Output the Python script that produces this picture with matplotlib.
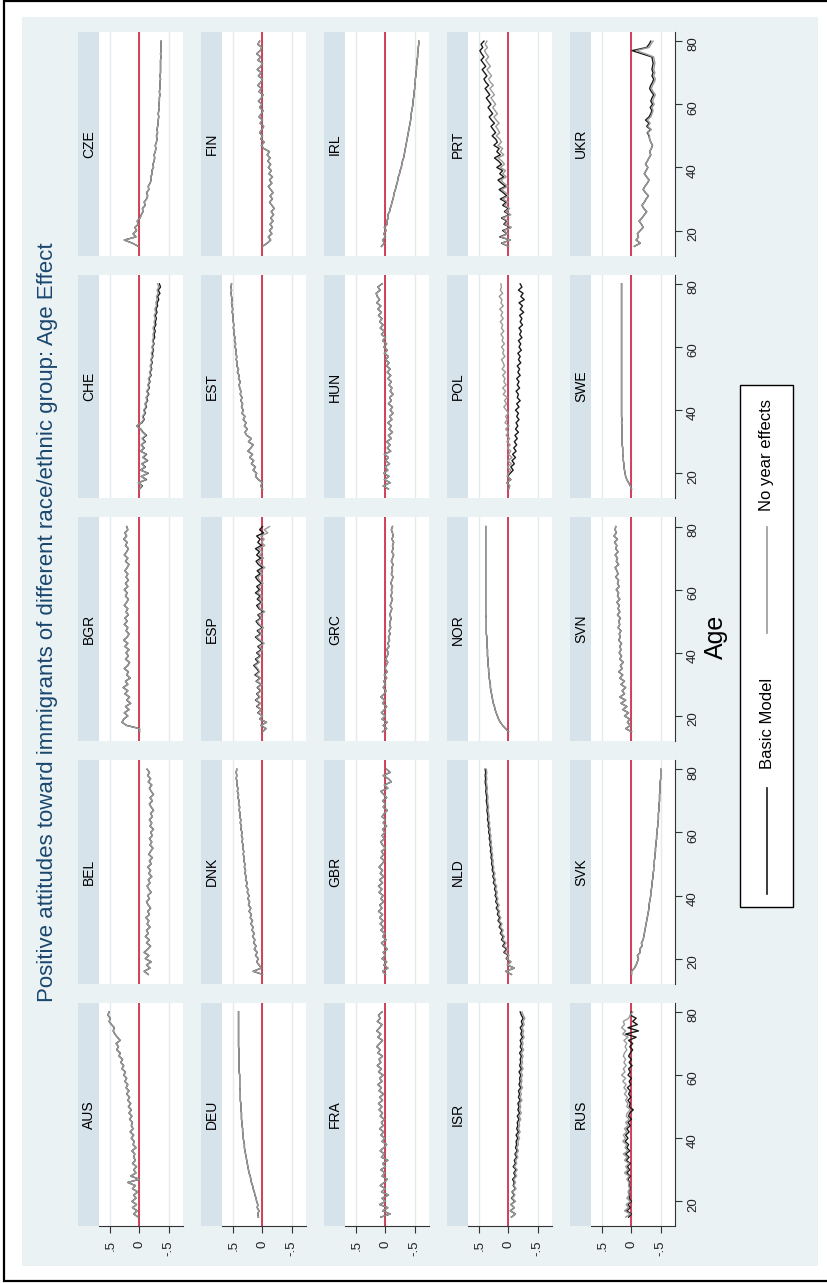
import matplotlib.pyplot as plt
from matplotlib.patches import Rectangle
from matplotlib.lines import Line2D

plt.rcParams['font.family'] = ['Liberation Sans', 'DejaVu Sans']

W, H = 827, 1283
ages = list(range(15, 81))

# age profiles, ages 15..80 (basic model; "no year effects" where it differs)
cze = [0.02, 0.12, 0.26, 0.06, 0.11,
       0.05, 0.08, 0.02, 0.04, -0.01, -0.03, -0.06, -0.05, -0.10, -0.08,
       -0.12, -0.14, -0.12, -0.16, -0.15, -0.18, -0.20, -0.19, -0.22, -0.21,
       -0.24, -0.23, -0.25, -0.26, -0.25, -0.27, -0.28, -0.27, -0.29, -0.30,
       -0.29, -0.31, -0.30, -0.31, -0.32, -0.32, -0.33, -0.32, -0.33, -0.34,
       -0.33, -0.34, -0.34, -0.35, -0.34, -0.35, -0.35, -0.35, -0.36, -0.35,
       -0.36, -0.36, -0.36, -0.36, -0.36, -0.37, -0.36, -0.37, -0.37, -0.37,
       -0.37]
che = [0.00, -0.05, 0.02, -0.12, -0.03,
       -0.15, -0.02, -0.10, -0.04, -0.14, -0.06, -0.12, -0.02, -0.08, -0.03,
       -0.10, -0.05, -0.12, -0.06, -0.02, 0.05, -0.04, -0.08, -0.06, -0.10,
       -0.08, -0.12, -0.10, -0.14, -0.12, -0.16, -0.13, -0.17, -0.15, -0.18,
       -0.16, -0.20, -0.18, -0.21, -0.19, -0.22, -0.20, -0.23, -0.22, -0.24,
       -0.22, -0.25, -0.23, -0.26, -0.25, -0.27, -0.25, -0.28, -0.27, -0.29,
       -0.27, -0.30, -0.28, -0.31, -0.30, -0.33, -0.31, -0.35, -0.32, -0.36,
       -0.34]
che_ny = [0.00, -0.04, 0.02, -0.11, -0.03,
          -0.14, -0.02, -0.09, -0.04, -0.13, -0.05, -0.11, -0.02, -0.07, -0.03,
          -0.09, -0.04, -0.11, -0.05, -0.02, 0.05, -0.03, -0.07, -0.05, -0.09,
          -0.07, -0.11, -0.09, -0.13, -0.11, -0.15, -0.12, -0.16, -0.14, -0.17,
          -0.15, -0.19, -0.17, -0.20, -0.18, -0.21, -0.19, -0.22, -0.20, -0.23,
          -0.21, -0.24, -0.22, -0.24, -0.23, -0.25, -0.23, -0.26, -0.25, -0.27,
          -0.25, -0.28, -0.26, -0.29, -0.28, -0.30, -0.29, -0.32, -0.30, -0.33,
          -0.31]
bgr = [0.00, 0.00, 0.22, 0.30, 0.27,
       0.20, 0.26, 0.18, 0.24, 0.15, 0.22, 0.17, 0.25, 0.20, 0.28,
       0.20, 0.24, 0.16, 0.22, 0.19, 0.26, 0.20, 0.17, 0.24, 0.19,
       0.23, 0.18, 0.25, 0.20, 0.27, 0.21, 0.18, 0.23, 0.20, 0.26,
       0.21, 0.25, 0.19, 0.23, 0.20, 0.26, 0.22, 0.19, 0.24, 0.21,
       0.26, 0.20, 0.24, 0.19, 0.23, 0.20, 0.25, 0.21, 0.18, 0.24,
       0.20, 0.26, 0.22, 0.19, 0.24, 0.21, 0.27, 0.22, 0.25, 0.20,
       0.22]
bel = [-0.15, -0.08, -0.18, -0.12, -0.20,
       -0.10, -0.16, -0.08, -0.14, -0.19, -0.12, -0.17, -0.10, -0.15, -0.12,
       -0.18, -0.13, -0.16, -0.11, -0.17, -0.14, -0.19, -0.15, -0.12, -0.17,
       -0.14, -0.20, -0.16, -0.13, -0.18, -0.15, -0.21, -0.16, -0.19, -0.14,
       -0.20, -0.17, -0.22, -0.16, -0.19, -0.23, -0.18, -0.21, -0.17, -0.22,
       -0.19, -0.24, -0.18, -0.21, -0.17, -0.22, -0.19, -0.24, -0.20, -0.17,
       -0.22, -0.18, -0.24, -0.20, -0.17, -0.21, -0.15, -0.19, -0.14, -0.17,
       -0.13]
aus = [0.02, 0.10, 0.04, 0.12, 0.05,
       0.13, 0.06, 0.10, 0.03, 0.12, 0.07, 0.20, 0.00, 0.15, 0.06,
       0.10, 0.05, 0.12, 0.07, 0.10, 0.08, 0.13, 0.06, 0.11, 0.09,
       0.14, 0.10, 0.16, 0.11, 0.14, 0.12, 0.17, 0.13, 0.18, 0.14,
       0.19, 0.15, 0.20, 0.17, 0.22, 0.18, 0.23, 0.20, 0.25, 0.22,
       0.27, 0.24, 0.30, 0.27, 0.32, 0.29, 0.35, 0.33, 0.39, 0.36,
       0.40, 0.33, 0.38, 0.42, 0.45, 0.43, 0.48, 0.52, 0.50, 0.54,
       0.52]
fin = [0.00, -0.08, -0.14, -0.10, -0.16,
       -0.12, -0.17, -0.13, -0.18, -0.14, -0.19, -0.15, -0.20, -0.16, -0.12,
       -0.17, -0.13, -0.18, -0.14, -0.10, -0.16, -0.12, -0.17, -0.11, -0.15,
       -0.10, -0.14, -0.09, -0.13, -0.08, -0.12, -0.02, 0.02, -0.03, 0.03,
       0.00, 0.05, 0.01, -0.02, 0.04, 0.00, 0.06, 0.02, -0.01, 0.05,
       0.01, 0.07, 0.02, -0.01, 0.06, 0.02, 0.08, 0.03, 0.00, 0.07,
       0.02, 0.09, 0.03, 0.00, 0.08, 0.03, 0.10, 0.04, 0.01, 0.08,
       0.05]
est = [0.00, 0.03, 0.00, 0.07, 0.12,
       0.10, 0.16, 0.12, 0.19, 0.15, 0.22, 0.17, 0.25, 0.20, 0.16,
       0.24, 0.19, 0.27, 0.30, 0.26, 0.31, 0.28, 0.33, 0.30, 0.35,
       0.33, 0.36, 0.34, 0.37, 0.35, 0.38, 0.37, 0.39, 0.40, 0.38,
       0.41, 0.40, 0.43, 0.41, 0.44, 0.43, 0.45, 0.44, 0.46, 0.45,
       0.47, 0.46, 0.48, 0.47, 0.49, 0.48, 0.50, 0.49, 0.50, 0.51,
       0.50, 0.52, 0.51, 0.52, 0.53, 0.52, 0.53, 0.54, 0.53, 0.54,
       0.53]
esp = [0.00, -0.06, 0.03, -0.07, 0.05,
       0.00, 0.08, 0.02, 0.10, 0.04, 0.12, 0.05, 0.10, 0.03, 0.09,
       0.02, 0.11, 0.04, 0.13, 0.06, 0.10, 0.15, 0.07, 0.12, 0.04,
       0.10, 0.02, 0.08, -0.01, 0.06, 0.12, 0.03, 0.09, 0.00, 0.07,
       0.11, 0.03, 0.08, -0.02, 0.06, 0.10, 0.02, 0.09, 0.04, 0.12,
       0.05, 0.10, 0.02, 0.08, 0.12, 0.04, 0.09, 0.00, 0.07, 0.11,
       0.03, 0.10, 0.05, 0.12, 0.02, 0.08, 0.04, 0.10, -0.02, 0.05,
       0.00]
esp_ny = [0.00, -0.06, 0.03, -0.07, 0.05,
          0.00, 0.07, 0.02, 0.09, 0.03, 0.11, 0.04, 0.09, 0.02, 0.08,
          0.01, 0.10, 0.03, 0.11, 0.05, 0.08, 0.13, 0.05, 0.10, 0.02,
          0.08, 0.00, 0.06, -0.03, 0.04, 0.10, 0.01, 0.07, -0.02, 0.05,
          0.09, 0.01, 0.06, -0.04, 0.04, 0.07, 0.00, 0.06, 0.01, 0.09,
          0.02, 0.07, -0.01, 0.05, 0.08, 0.00, 0.05, -0.04, 0.03, 0.07,
          -0.02, 0.05, 0.00, 0.07, -0.04, 0.02, -0.03, 0.03, -0.09, -0.03,
          -0.12]
dnk = [0.00, 0.16, 0.02, 0.06, 0.10,
       0.07, 0.12, 0.09, 0.14, 0.11, 0.15, 0.13, 0.17, 0.14, 0.18,
       0.16, 0.20, 0.17, 0.21, 0.19, 0.23, 0.20, 0.24, 0.22, 0.25,
       0.23, 0.26, 0.25, 0.28, 0.26, 0.29, 0.28, 0.30, 0.29, 0.31,
       0.30, 0.32, 0.31, 0.33, 0.32, 0.34, 0.33, 0.35, 0.34, 0.36,
       0.35, 0.37, 0.36, 0.38, 0.37, 0.39, 0.38, 0.40, 0.39, 0.41,
       0.40, 0.42, 0.41, 0.43, 0.42, 0.44, 0.43, 0.45, 0.44, 0.45,
       0.44]
deu = [0.07, 0.08, 0.06, 0.09, 0.08,
       0.10, 0.11, 0.13, 0.14, 0.16, 0.17, 0.19, 0.20, 0.21, 0.23,
       0.24, 0.25, 0.26, 0.27, 0.28, 0.29, 0.30, 0.31, 0.31, 0.32,
       0.33, 0.33, 0.34, 0.34, 0.35, 0.35, 0.36, 0.36, 0.36, 0.37,
       0.37, 0.37, 0.38, 0.38, 0.38, 0.38, 0.39, 0.39, 0.39, 0.39,
       0.39, 0.40, 0.40, 0.40, 0.40, 0.40, 0.40, 0.40, 0.40, 0.41,
       0.41, 0.41, 0.41, 0.41, 0.41, 0.41, 0.41, 0.41, 0.41, 0.41,
       0.41]
irl = [0.07, 0.02, 0.05, 0.00, 0.03,
       -0.01, 0.02, -0.03, -0.02, -0.05, -0.04, -0.07, -0.08, -0.10, -0.11,
       -0.13, -0.14, -0.15, -0.17, -0.18, -0.20, -0.21, -0.22, -0.24, -0.25,
       -0.27, -0.28, -0.29, -0.31, -0.32, -0.33, -0.34, -0.35, -0.36, -0.37,
       -0.38, -0.39, -0.40, -0.41, -0.42, -0.43, -0.44, -0.44, -0.45, -0.46,
       -0.47, -0.47, -0.48, -0.49, -0.49, -0.50, -0.50, -0.51, -0.51, -0.52,
       -0.52, -0.53, -0.53, -0.54, -0.54, -0.55, -0.55, -0.56, -0.56, -0.57,
       -0.57]
hun = [-0.05, 0.04, -0.08, 0.02, -0.06,
       0.03, -0.04, 0.01, -0.07, 0.00, -0.05, 0.02, -0.09, -0.03, -0.08,
       -0.02, -0.10, -0.05, -0.12, -0.06, -0.10, -0.04, -0.11, -0.07, -0.13,
       -0.08, -0.12, -0.05, -0.10, -0.07, -0.13, -0.08, -0.11, -0.06, -0.10,
       -0.04, -0.09, -0.03, -0.08, -0.02, -0.06, 0.00, -0.05, 0.02, -0.03,
       0.03, -0.02, 0.05, 0.00, 0.07, 0.02, 0.09, 0.04, 0.10, 0.06,
       0.12, 0.07, 0.13, 0.08, 0.15, 0.10, 0.14, 0.16, 0.09, 0.13,
       0.06]
grc = [0.05, -0.02, 0.04, -0.03, 0.06,
       0.00, 0.07, 0.02, -0.02, 0.05, 0.01, 0.08, 0.02, -0.01, 0.04,
       0.00, 0.03, -0.02, 0.02, -0.03, 0.01, -0.01, -0.04, 0.00, -0.03,
       -0.05, -0.02, -0.06, -0.04, -0.07, -0.05, -0.08, -0.06, -0.09, -0.07,
       -0.08, -0.10, -0.07, -0.09, -0.11, -0.08, -0.10, -0.12, -0.09, -0.11,
       -0.10, -0.12, -0.09, -0.11, -0.13, -0.10, -0.12, -0.11, -0.13, -0.10,
       -0.12, -0.14, -0.11, -0.13, -0.12, -0.14, -0.11, -0.13, -0.12, -0.10,
       -0.12]
gbr = [0.00, 0.05, -0.04, 0.03, -0.02,
       0.06, 0.00, 0.04, -0.03, 0.02, 0.07, -0.01, 0.05, 0.01, 0.08,
       0.03, 0.09, 0.04, 0.10, 0.05, 0.12, 0.06, 0.10, 0.03, 0.08,
       0.04, 0.11, 0.06, 0.12, 0.05, 0.10, 0.03, 0.09, 0.05, 0.11,
       0.06, 0.02, 0.08, 0.03, 0.07, 0.00, 0.05, 0.08, 0.02, 0.06,
       0.01, 0.05, -0.02, 0.04, 0.00, 0.06, 0.02, -0.03, 0.04, 0.00,
       0.05, -0.02, 0.03, 0.08, -0.04, 0.02, -0.10, -0.05, 0.04, -0.08,
       -0.02]
fra = [0.08, -0.08, 0.05, -0.04, 0.10,
       0.00, 0.06, -0.05, 0.07, 0.00, 0.09, 0.02, -0.03, 0.06, 0.01,
       0.08, 0.00, 0.05, -0.04, 0.07, 0.02, 0.09, 0.03, -0.02, 0.06,
       0.01, 0.08, 0.03, 0.10, 0.04, 0.07, 0.02, 0.09, 0.05, 0.11,
       0.06, 0.12, 0.05, 0.10, 0.03, 0.11, 0.07, 0.13, 0.06, 0.10,
       0.04, 0.12, 0.07, 0.14, 0.08, 0.11, 0.05, 0.13, 0.09, 0.15,
       0.10, 0.05, 0.13, 0.08, 0.15, 0.10, 0.06, 0.14, 0.09, 0.12,
       0.06]
prt = [0.00, 0.12, -0.03, 0.15, 0.02,
       0.10, -0.04, 0.08, 0.03, 0.12, -0.02, 0.07, 0.00, 0.10, 0.04,
       0.14, 0.03, 0.09, 0.16, 0.05, 0.12, 0.18, 0.08, 0.15, 0.10,
       0.20, 0.12, 0.17, 0.24, 0.14, 0.20, 0.16, 0.25, 0.19, 0.22,
       0.28, 0.22, 0.26, 0.30, 0.24, 0.29, 0.33, 0.27, 0.31, 0.35,
       0.30, 0.34, 0.38, 0.32, 0.36, 0.40, 0.34, 0.39, 0.42, 0.37,
       0.41, 0.45, 0.39, 0.43, 0.47, 0.42, 0.46, 0.49, 0.44, 0.47,
       0.42]
prt_ny = [0.00, 0.11, -0.03, 0.13, 0.01,
          0.08, -0.05, 0.06, 0.01, 0.10, -0.04, 0.05, -0.02, 0.07, 0.01,
          0.10, 0.00, 0.05, 0.12, 0.01, 0.08, 0.13, 0.04, 0.10, 0.05,
          0.14, 0.07, 0.11, 0.18, 0.08, 0.14, 0.10, 0.18, 0.12, 0.15,
          0.21, 0.15, 0.18, 0.22, 0.16, 0.21, 0.25, 0.19, 0.23, 0.27,
          0.22, 0.26, 0.30, 0.24, 0.28, 0.32, 0.26, 0.31, 0.34, 0.29,
          0.33, 0.37, 0.31, 0.35, 0.39, 0.34, 0.38, 0.41, 0.36, 0.40,
          0.37]
pol = [0.00, -0.02, 0.03, -0.04, 0.02,
       -0.03, -0.08, -0.04, -0.10, -0.06, -0.12, -0.07, -0.13, -0.09, -0.14,
       -0.10, -0.15, -0.11, -0.17, -0.12, -0.16, -0.13, -0.18, -0.14, -0.17,
       -0.12, -0.18, -0.14, -0.20, -0.15, -0.17, -0.13, -0.19, -0.15, -0.18,
       -0.14, -0.20, -0.16, -0.19, -0.15, -0.21, -0.17, -0.20, -0.16, -0.22,
       -0.18, -0.21, -0.17, -0.23, -0.19, -0.22, -0.18, -0.24, -0.20, -0.23,
       -0.19, -0.26, -0.20, -0.24, -0.18, -0.27, -0.21, -0.25, -0.17, -0.23,
       -0.20]
pol_ny = [0.00, -0.02, 0.03, -0.04, 0.02,
          0.00, -0.04, 0.02, -0.05, 0.01, -0.06, 0.00, -0.04, 0.02, -0.03,
          0.03, -0.02, 0.04, 0.00, 0.05, -0.01, 0.06, 0.02, 0.05, 0.00,
          0.04, 0.08, 0.03, 0.07, 0.02, 0.09, 0.05, 0.10, 0.04, 0.08,
          0.06, 0.10, 0.05, 0.11, 0.07, 0.09, 0.12, 0.06, 0.10, 0.08,
          0.12, 0.07, 0.11, 0.09, 0.13, 0.08, 0.12, 0.10, 0.14, 0.09,
          0.13, 0.10, 0.15, 0.09, 0.13, 0.11, 0.16, 0.10, 0.14, 0.12,
          0.13]
nor = [0.00, 0.05, 0.10, 0.14, 0.17,
       0.19, 0.21, 0.23, 0.24, 0.26, 0.27, 0.28, 0.29, 0.30, 0.31,
       0.31, 0.32, 0.33, 0.33, 0.34, 0.34, 0.35, 0.35, 0.35, 0.36,
       0.36, 0.36, 0.37, 0.37, 0.37, 0.37, 0.38, 0.38, 0.38, 0.38,
       0.38, 0.38, 0.39, 0.39, 0.39, 0.39, 0.39, 0.39, 0.39, 0.39,
       0.39, 0.39, 0.39, 0.39, 0.39, 0.39, 0.39, 0.39, 0.39, 0.39,
       0.39, 0.39, 0.39, 0.39, 0.39, 0.39, 0.39, 0.39, 0.39, 0.39,
       0.39]
nld = [-0.05, 0.05, -0.10, 0.02, -0.04,
       0.04, 0.00, 0.08, 0.03, 0.10, 0.06, 0.12, 0.09, 0.14, 0.11,
       0.16, 0.13, 0.18, 0.15, 0.19, 0.17, 0.21, 0.18, 0.22, 0.20,
       0.23, 0.21, 0.24, 0.22, 0.26, 0.24, 0.27, 0.25, 0.28, 0.27,
       0.29, 0.28, 0.30, 0.29, 0.31, 0.30, 0.32, 0.31, 0.33, 0.32,
       0.34, 0.33, 0.35, 0.34, 0.36, 0.35, 0.36, 0.37, 0.36, 0.37,
       0.38, 0.37, 0.38, 0.39, 0.38, 0.39, 0.40, 0.39, 0.40, 0.39,
       0.40]
nld_ny = [-0.05, 0.05, -0.10, 0.02, -0.04,
          0.03, -0.01, 0.06, 0.01, 0.08, 0.04, 0.10, 0.07, 0.12, 0.09,
          0.14, 0.11, 0.16, 0.13, 0.17, 0.15, 0.19, 0.16, 0.20, 0.18,
          0.21, 0.19, 0.22, 0.20, 0.24, 0.22, 0.25, 0.23, 0.26, 0.25,
          0.27, 0.26, 0.28, 0.27, 0.29, 0.28, 0.30, 0.29, 0.31, 0.30,
          0.32, 0.31, 0.33, 0.32, 0.34, 0.33, 0.34, 0.35, 0.34, 0.35,
          0.36, 0.35, 0.36, 0.37, 0.36, 0.37, 0.38, 0.37, 0.38, 0.37,
          0.38]
isr = [-0.05, -0.12, -0.03, -0.10, -0.04,
       -0.11, -0.05, -0.10, -0.06, -0.12, -0.08, -0.10, -0.07, -0.12, -0.09,
       -0.13, -0.08, -0.12, -0.10, -0.14, -0.11, -0.15, -0.12, -0.14, -0.13,
       -0.16, -0.13, -0.17, -0.14, -0.16, -0.15, -0.18, -0.15, -0.19, -0.16,
       -0.18, -0.16, -0.20, -0.17, -0.19, -0.17, -0.21, -0.18, -0.20, -0.19,
       -0.21, -0.18, -0.22, -0.19, -0.21, -0.20, -0.22, -0.19, -0.23, -0.20,
       -0.22, -0.20, -0.24, -0.21, -0.23, -0.20, -0.24, -0.22, -0.25, -0.22,
       -0.20]
isr_ny = [-0.05, -0.12, -0.03, -0.10, -0.04,
          -0.12, -0.06, -0.11, -0.07, -0.13, -0.09, -0.12, -0.09, -0.14, -0.11,
          -0.15, -0.10, -0.14, -0.12, -0.16, -0.13, -0.17, -0.14, -0.17, -0.16,
          -0.19, -0.16, -0.20, -0.17, -0.19, -0.18, -0.21, -0.18, -0.22, -0.19,
          -0.21, -0.19, -0.23, -0.20, -0.22, -0.20, -0.24, -0.21, -0.23, -0.22,
          -0.24, -0.21, -0.25, -0.22, -0.24, -0.23, -0.25, -0.22, -0.26, -0.23,
          -0.25, -0.23, -0.27, -0.24, -0.26, -0.23, -0.27, -0.25, -0.28, -0.25,
          -0.23]
ukr = [-0.05, -0.15, -0.08, -0.12, -0.10,
       -0.15, -0.20, -0.17, -0.13, -0.18, -0.22, -0.26, -0.21, -0.18, -0.22,
       -0.25, -0.29, -0.24, -0.20, -0.23, -0.27, -0.30, -0.26, -0.22, -0.25,
       -0.28, -0.24, -0.27, -0.30, -0.33, -0.31, -0.34, -0.36, -0.33, -0.31,
       -0.30, -0.27, -0.33, -0.26, -0.30, -0.24, -0.30, -0.33, -0.35, -0.32,
       -0.36, -0.33, -0.35, -0.38, -0.34, -0.31, -0.33, -0.36, -0.38, -0.35,
       -0.37, -0.35, -0.36, -0.37, -0.36, -0.35, -0.18, -0.01, -0.26, -0.30,
       -0.33]
ukr_ny = [-0.05, -0.15, -0.08, -0.12, -0.10,
          -0.15, -0.20, -0.17, -0.13, -0.18, -0.22, -0.26, -0.21, -0.18, -0.22,
          -0.25, -0.29, -0.24, -0.20, -0.23, -0.27, -0.30, -0.26, -0.22, -0.25,
          -0.28, -0.24, -0.27, -0.30, -0.33, -0.31, -0.34, -0.36, -0.33, -0.31,
          -0.31, -0.28, -0.34, -0.28, -0.32, -0.27, -0.33, -0.35, -0.37, -0.35,
          -0.39, -0.36, -0.38, -0.41, -0.37, -0.34, -0.36, -0.39, -0.41, -0.38,
          -0.40, -0.38, -0.39, -0.40, -0.39, -0.38, -0.24, -0.08, -0.30, -0.33,
          -0.37]
swe = [0.00, 0.02, 0.05, 0.08, 0.10,
       0.11, 0.12, 0.13, 0.13, 0.14, 0.14, 0.15, 0.15, 0.15, 0.16,
       0.16, 0.16, 0.16, 0.16, 0.16, 0.16, 0.17, 0.16, 0.17, 0.17,
       0.17, 0.17, 0.17, 0.17, 0.17, 0.17, 0.17, 0.17, 0.17, 0.17,
       0.17, 0.17, 0.17, 0.17, 0.17, 0.17, 0.17, 0.17, 0.17, 0.17,
       0.17, 0.17, 0.17, 0.17, 0.17, 0.17, 0.17, 0.17, 0.17, 0.17,
       0.17, 0.17, 0.17, 0.17, 0.17, 0.17, 0.17, 0.17, 0.17, 0.17,
       0.17]
svn = [0.00, 0.10, 0.02, 0.07, 0.03,
       0.12, 0.05, 0.15, 0.08, 0.18, 0.10, 0.20, 0.12, 0.16, 0.10,
       0.18, 0.12, 0.20, 0.15, 0.22, 0.16, 0.19, 0.14, 0.20, 0.17,
       0.21, 0.18, 0.20, 0.17, 0.22, 0.19, 0.21, 0.18, 0.23, 0.20,
       0.22, 0.19, 0.24, 0.20, 0.23, 0.21, 0.25, 0.20, 0.24, 0.22,
       0.26, 0.21, 0.24, 0.22, 0.27, 0.23, 0.25, 0.28, 0.22, 0.26,
       0.24, 0.28, 0.23, 0.27, 0.25, 0.29, 0.24, 0.30, 0.26, 0.28,
       0.27]
svk = [0.00, 0.00, -0.05, -0.08, -0.10,
       -0.12, -0.10, -0.15, -0.14, -0.18, -0.17, -0.20, -0.21, -0.22, -0.23,
       -0.24, -0.25, -0.26, -0.27, -0.28, -0.29, -0.30, -0.30, -0.31, -0.32,
       -0.33, -0.33, -0.34, -0.35, -0.35, -0.36, -0.37, -0.37, -0.38, -0.38,
       -0.39, -0.39, -0.40, -0.40, -0.41, -0.41, -0.42, -0.42, -0.43, -0.43,
       -0.44, -0.44, -0.45, -0.45, -0.46, -0.46, -0.46, -0.47, -0.47, -0.47,
       -0.48, -0.48, -0.48, -0.49, -0.49, -0.49, -0.49, -0.50, -0.50, -0.50,
       -0.50]
rus = [0.05, 0.00, 0.08, 0.02, 0.06,
       0.00, 0.04, 0.03, 0.05, 0.02, 0.04, 0.03, 0.06, 0.02, 0.08,
       0.03, 0.07, 0.02, 0.09, 0.04, 0.10, 0.03, 0.08, 0.05, 0.11,
       0.06, 0.10, 0.04, 0.08, 0.02, 0.06, 0.00, 0.05, 0.03, -0.03,
       0.04, 0.02, 0.06, 0.01, 0.05, 0.02, 0.07, 0.01, 0.04, 0.00,
       0.06, 0.02, 0.05, -0.01, 0.04, 0.00, 0.05, 0.02, -0.02, 0.03,
       -0.02, 0.05, -0.08, 0.10, -0.12, 0.06, -0.10, -0.02, -0.08, 0.02,
       0.00]
rus_ny = [0.10, 0.02, 0.12, 0.05, 0.09,
          0.02, 0.08, 0.04, 0.06, 0.03, 0.05, 0.04, 0.08, 0.04, 0.12,
          0.06, 0.10, 0.04, 0.12, 0.07, 0.14, 0.06, 0.11, 0.08, 0.15,
          0.10, 0.14, 0.08, 0.12, 0.06, 0.10, 0.04, 0.09, 0.07, 0.02,
          0.08, 0.06, 0.10, 0.07, 0.12, 0.08, 0.13, 0.09, 0.15, 0.10,
          0.17, 0.11, 0.14, 0.09, 0.13, 0.10, 0.14, 0.12, 0.08, 0.11,
          0.08, 0.13, 0.06, 0.15, 0.10, 0.17, 0.12, 0.14, 0.05, 0.02,
          -0.02]

# panels as placed on the page: each inner list is one column, top to bottom
page_columns = [["CZE", "CHE", "BGR", "BEL", "AUS"],
                ["FIN", "EST", "ESP", "DNK", "DEU"],
                ["IRL", "HUN", "GRC", "GBR", "FRA"],
                ["PRT", "POL", "NOR", "NLD", "ISR"],
                ["UKR", "SWE", "SVN", "SVK", "RUS"]]
series = {
    "AUS": (aus, aus), "BEL": (bel, bel), "BGR": (bgr, bgr), "CHE": (che, che_ny), "CZE": (cze, cze),
    "DEU": (deu, deu), "DNK": (dnk, dnk), "ESP": (esp, esp_ny), "EST": (est, est), "FIN": (fin, fin),
    "FRA": (fra, fra), "GBR": (gbr, gbr), "GRC": (grc, grc), "HUN": (hun, hun), "IRL": (irl, irl),
    "ISR": (isr, isr_ny), "NLD": (nld, nld_ny), "NOR": (nor, nor), "POL": (pol, pol_ny), "PRT": (prt, prt_ny),
    "RUS": (rus, rus_ny), "SVK": (svk, svk), "SVN": (svn, svn), "SWE": (swe, swe), "UKR": (ukr, ukr_ny),
}
age_ticks = [20, 40, 60, 80]
value_ticks = [0.5, 0, -0.5]
value_labels = [".5", "0", "-.5"]

title = "Positive attitudes toward immigrants of different race/ethnic group: Age Effect"

BG = "#eaf2f3"
STRIP = "#d6e3eb"
NAVY = "#1a476f"


def fig_box(x, y, w, h):
    """Pixel box (top-left origin) -> figure fraction rectangle."""
    return [x / W, 1 - (y + h) / H, w / W, h / H]


def fig_rect(x, y, w, h, **kw):
    left, bottom, fw, fh = fig_box(x, y, w, h)
    fig.add_artist(Rectangle((left, bottom), fw, fh, transform=fig.transFigure, **kw))


fig = plt.figure(figsize=(W / 100, H / 100), dpi=100)
fig.patch.set_facecolor("white")

# outer frame and graph region sit underneath the panels
fig_rect(4, 1, 830, 1280, facecolor="white", edgecolor="black", linewidth=1.6, zorder=-3)
fig_rect(22, 17, 796, 1249, facecolor=BG, edgecolor="none", zorder=-2)

col_x, col_step = 78, 123
row_y, row_step = 32, 242.7
strip_w, plot_w, plot_h = 21, 83.5, 223.5

for c, column in enumerate(page_columns):
    for r, name in enumerate(column):
        x0 = col_x + c * col_step
        y0 = row_y + r * row_step
        # country strip
        fig_rect(x0, y0, strip_w, plot_h, facecolor=STRIP, edgecolor="none", zorder=-1)
        fig.text((x0 + strip_w / 2 + 0.5) / W, 1 - (y0 + plot_h / 2) / H, name, rotation=90,
                 ha="center", va="center", fontsize=10, color="black")

        ax = fig.add_axes(fig_box(x0 + strip_w, y0, plot_w, plot_h))
        ax.set_facecolor("white")
        for v in value_ticks:
            ax.axvline(v, color="#e2ecee", linewidth=1.0, zorder=1)
        ax.axvline(0, color="#c8102e", linewidth=1.1, zorder=2)
        basic, noyear = series[name]
        ax.plot(basic, ages, color="#1a1a1a", linewidth=1.0, zorder=3)
        ax.plot(noyear, ages, color="#9a9a9a", linewidth=1.0, zorder=4)
        ax.set_xlim(0.693, -0.736)
        ax.set_ylim(12.1, 82.9)
        for s in ax.spines.values():
            s.set_visible(False)

        ax.yaxis.tick_right()
        ax.set_yticks(age_ticks)
        ax.set_xticks(value_ticks)
        ax.set_xticklabels(value_labels)
        ax.tick_params(axis="y", labelrotation=90, length=5, width=0.8, pad=4,
                       labelsize=9.5, color="#333333", labelcolor="#222222")
        ax.tick_params(axis="x", labelrotation=90, length=5, width=0.8, pad=5,
                       labelsize=9.5, color="#333333", labelcolor="#222222")
        if c == len(page_columns) - 1:
            ax.spines["right"].set_visible(True)
            ax.spines["right"].set_color("#333333")
            ax.spines["right"].set_linewidth(0.8)
        else:
            ax.tick_params(axis="y", right=False, labelright=False)
        if r == len(column) - 1:
            ax.spines["bottom"].set_visible(True)
            ax.spines["bottom"].set_color("#333333")
            ax.spines["bottom"].set_linewidth(0.8)
        else:
            ax.tick_params(axis="x", bottom=False, labelbottom=False)

# title and axis title
fig.text(48 / W, 1 - 622 / H, title, rotation=90, ha="center", va="center",
         fontsize=16, color=NAVY)
fig.text(716 / W, 1 - 637 / H, "Age", rotation=90, ha="center", va="center",
         fontsize=18, color="black")

# legend box
fig_rect(740, 385, 53, 522, facecolor="white", edgecolor="black", linewidth=1.0, zorder=-1)
fig.add_artist(Line2D([767 / W, 767 / W], [1 - 894 / H, 1 - 788 / H], transform=fig.transFigure,
                      color="#1a1a1a", linewidth=1.2))
fig.text(767 / W, 1 - 723 / H, "Basic Model", rotation=90, ha="center", va="center", fontsize=12)
fig.add_artist(Line2D([767 / W, 767 / W], [1 - 633 / H, 1 - 527 / H], transform=fig.transFigure,
                      color="#9a9a9a", linewidth=1.2))
fig.text(767 / W, 1 - 455 / H, "No year effects", rotation=90, ha="center", va="center", fontsize=12)

fig.savefig("out.png", dpi=100)
